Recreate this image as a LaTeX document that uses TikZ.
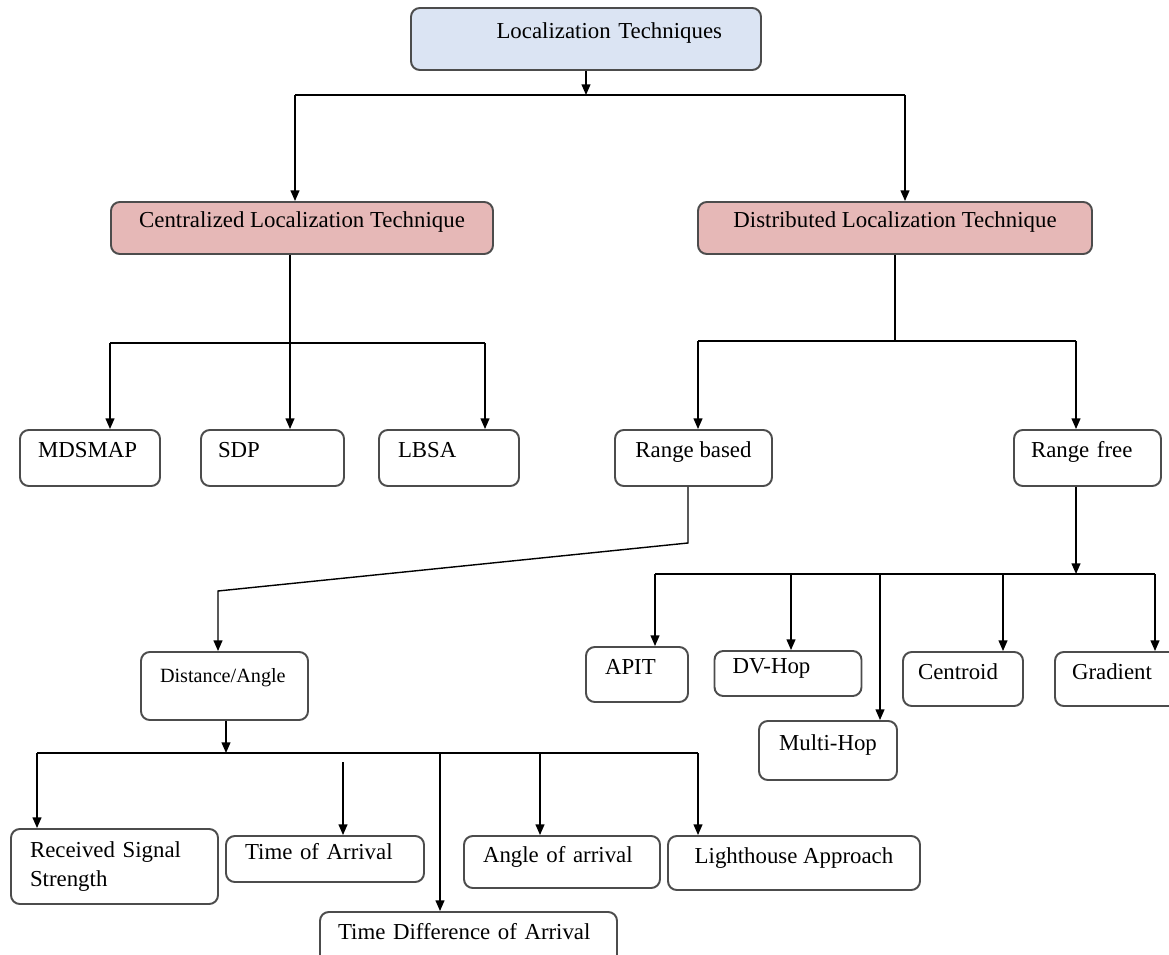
\documentclass[tikz,border=0pt]{standalone}
\usepackage{fontspec}
\setmainfont{Liberation Serif}
\usetikzlibrary{arrows.meta}
\definecolor{topblue}{RGB}{219,228,243}
\definecolor{midpink}{RGB}{230,184,183}
\begin{document}
\begin{tikzpicture}[x=0.02cm, y=-0.02cm, line width=0.8pt,
        box/.style={draw=black!70, line width=1.1pt, rounded corners=5pt,
                    fill=white, inner xsep=0pt, inner ysep=2pt,
                    font=\fontsize{13}{16}\selectfont},
        lift/.style={text height=9pt, text depth=9pt},
        wh/.style 2 args={minimum width=#1*0.02cm, minimum height=#2*0.02cm},
        arr/.style={-{Triangle[length=6pt,width=5pt]}}]
        \useasboundingbox (0,0) rectangle (1169,955);
        \clip (0,0) rectangle (1169,955);
        % boxes
        \node[box, lift, fill=topblue, wh={350}{62}, align=right, text width=5.44cm] (loc) at (586,39) {Localization Techniques};
        \node[box, lift, fill=midpink, wh={382}{52}] (cen) at (302,228) {Centralized Localization Technique};
        \node[box, lift, fill=midpink, wh={394}{52}] (dis) at (895,228) {Distributed Localization Technique};
        \node[box, lift, wh={140}{56}, align=left, text width=2.08cm] (mds) at (90,458) {MDSMAP};
        \node[box, lift, wh={143}{56}, align=left, text width=2.18cm] (sdp) at (272.5,458) {SDP};
        \node[box, lift, wh={140}{56}, align=left, text width=2.04cm] (lbsa) at (449,458) {LBSA};
        \node[box, lift, wh={157}{56}] (rb) at (693.5,458) {Range based};
        \node[box, lift, wh={147}{56}, align=left, text width=2.26cm] (rf) at (1087.5,458) {Range free};
        \node[box, wh={167}{68}, align=left, text width=2.58cm, font=\fontsize{11.5}{13}\selectfont,
              text height=7pt, text depth=11pt] (da) at (224.5,686) {Distance/Angle};
        \node[box, lift, wh={102}{55}, align=left, text width=1.28cm] (apit) at (637,674.5) {APIT};
        \node[box, lift, wh={147}{45}, align=left, text width=2.22cm] (dvh) at (788,673.5) {DV-Hop};
        \node[box, lift, wh={138}{59}] (mh) at (828,750.5) {Multi-Hop};
        \node[box, lift, wh={120}{54}, align=left, text width=1.8cm] (cent) at (963,679) {Centroid};
        \node[box, lift, wh={130}{54}, align=left, text width=1.92cm] (grad) at (1120,679) {Gradient};
        \node[box, wh={207}{75}, align=left, text width=3.38cm] (rss) at (114.5,866.5) {Received Signal\\Strength};
        \node[box, lift, wh={198}{46}, align=left, text width=3.2cm] (toa) at (325,859) {Time of Arrival};
        \node[box, lift, wh={297}{54}, align=left, text width=5.22cm] (tdoa) at (468.5,939) {Time Difference of Arrival};
        \node[box, lift, wh={196}{52}, align=left, text width=3.16cm] (aoa) at (562,862) {Angle of arrival};
        \node[box, lift, wh={252}{54}] (lh) at (794,863) {Lighthouse Approach};
        % top level
        \coordinate (t1) at (295,95);
        \coordinate (t2) at (905,95);
        \draw[arr] (loc.south) -- (loc.south |- t1);
        \draw (t1) -- (t2);
        \draw[arr] (t1) -- (t1 |- cen.north);
        \draw[arr] (t2) -- (t2 |- dis.north);
        % centralized
        \coordinate (c1) at (110,343);
        \coordinate (c2) at (290,343);
        \coordinate (c3) at (485,343);
        \draw (c1) -- (c3);
        \draw[arr] (c2 |- cen.south) -- (c2 |- sdp.north);
        \draw[arr] (c1) -- (c1 |- mds.north);
        \draw[arr] (c3) -- (c3 |- lbsa.north);
        % distributed
        \coordinate (d1) at (698,341);
        \coordinate (d2) at (895,341);
        \coordinate (d3) at (1076,341);
        \draw (d2 |- dis.south) -- (d2);
        \draw (d1) -- (d3);
        \draw[arr] (d1) -- (d1 |- rb.north);
        \draw[arr] (d3) -- (d3 |- rf.north);
        % range based
        \coordinate (b1) at (688,543);
        \coordinate (b2) at (218,591);
        \draw[arr] (b1 |- rb.south) -- (b1) -- (b2) -- (b2 |- da.north);
        % range free
        \coordinate (f1) at (1076,574);
        \draw[arr] (f1 |- rf.south) -- (f1);
        \draw (655,574) -- (1155,574);
        \foreach \x/\n in {655/apit, 791/dvh, 880/mh, 1003/cent, 1155/grad}
            \draw[arr] (\x,574) -- (\x,574 |- \n.north);
        % distance/angle
        \coordinate (a0) at (226,753);
        \draw[arr] (a0 |- da.south) -- (a0);
        \draw (37,753) -- (698,753);
        \foreach \x/\n in {37/rss, 440/tdoa, 540/aoa, 698/lh}
            \draw[arr] (\x,753) -- (\x,753 |- \n.north);
        \draw[arr] (343,762) -- (343,762 |- toa.north);
\end{tikzpicture}
\end{document}
